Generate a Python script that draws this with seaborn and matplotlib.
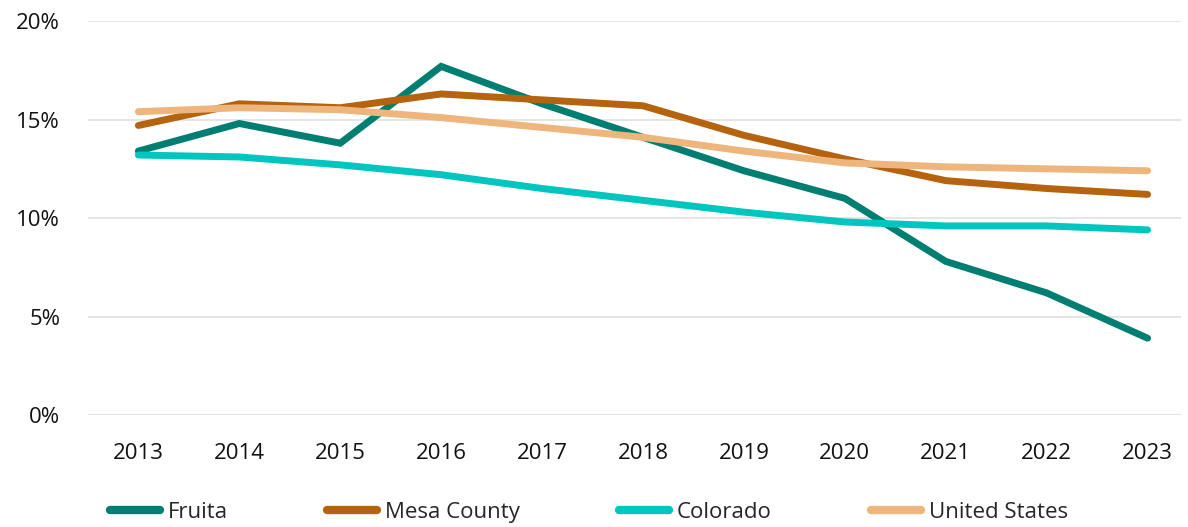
import pandas as pd
import matplotlib.pyplot as plt
import seaborn as sns
from matplotlib.ticker import PercentFormatter

years = ["2013", "2014", "2015", "2016", "2017", "2018", "2019", "2020", "2021", "2022", "2023"]
fruita = [13.4, 14.8, 13.8, 17.7, 15.8, 14.1, 12.4, 11.0, 7.8, 6.2, 3.9]
mesa_county = [14.7, 15.8, 15.6, 16.3, 16.0, 15.7, 14.2, 13.0, 11.9, 11.5, 11.2]
colorado = [13.2, 13.1, 12.7, 12.2, 11.5, 10.9, 10.3, 9.8, 9.6, 9.6, 9.4]
united_states = [15.4, 15.6, 15.5, 15.1, 14.6, 14.1, 13.4, 12.8, 12.6, 12.5, 12.4]

series = {
    "Fruita": fruita,
    "Mesa County": mesa_county,
    "Colorado": colorado,
    "United States": united_states,
}
colors = {
    "Fruita": "#007E72",
    "Mesa County": "#B5630E",
    "Colorado": "#00C6BF",
    "United States": "#EEB57D",
}

# long format for seaborn
df = pd.DataFrame(
    [(y, name, v) for name, vals in series.items() for y, v in zip(years, vals)],
    columns=["Year", "Area", "Value"],
)

sns.set_theme(style="white")
plt.rcParams["font.family"] = ["Open Sans", "DejaVu Sans"]

fig = plt.figure(figsize=(11.88, 5.27), dpi=100)
ax = fig.add_axes([0.074, 0.2125, 0.92, 0.7475])

sns.lineplot(data=df, x="Year", y="Value", hue="Area", palette=colors,
             linewidth=5, sort=False, ax=ax, legend=False,
             solid_capstyle="round", solid_joinstyle="miter")

ax.set_ylim(0, 20)
ax.set_xlim(-0.5, 10.33)
ax.set_yticks([0, 5, 10, 15, 20])
ax.yaxis.set_major_formatter(PercentFormatter(decimals=0))
ax.grid(axis="y", color="#E3E3E3", linewidth=1.3)
ax.set_axisbelow(True)
ax.set_xlabel("")
ax.set_ylabel("")
ax.tick_params(axis="both", labelsize=16, colors="#111111", length=0)
ax.tick_params(axis="x", pad=20)
ax.tick_params(axis="y", pad=20)
sns.despine(ax=ax, left=True, bottom=True)

handles = [plt.Line2D([], [], color=colors[k], linewidth=6, solid_capstyle="round")
           for k in series]
fig.legend(handles, list(series.keys()), loc="lower left", bbox_to_anchor=(0.076, -0.03),
           ncol=4, frameon=False, fontsize=16, handlelength=2.25,
           handletextpad=0.36, columnspacing=4.45)

fig.savefig("out.png", dpi=100)
